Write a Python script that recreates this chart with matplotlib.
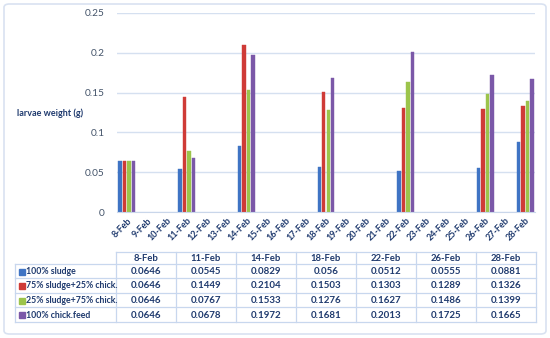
import matplotlib
matplotlib.use("Agg")
import matplotlib.pyplot as plt
from matplotlib.patches import FancyBboxPatch, Rectangle
import numpy as np

all_dates = [f"{d}-Feb" for d in range(8, 29)]
data_dates = ["8-Feb", "11-Feb", "14-Feb", "18-Feb", "22-Feb", "26-Feb", "28-Feb"]
series_names = ["100% sludge", "75% sludge+25% chick.", "25% sludge+75% chick.", "100% chick.feed"]
sludge100 = [0.0646, 0.0545, 0.0829, 0.056, 0.0512, 0.0555, 0.0881]
sludge75 = [0.0646, 0.1449, 0.2104, 0.1503, 0.1303, 0.1289, 0.1326]
sludge25 = [0.0646, 0.0767, 0.1533, 0.1276, 0.1627, 0.1486, 0.1399]
chick100 = [0.0646, 0.0678, 0.1972, 0.1681, 0.2013, 0.1725, 0.1665]
series = [sludge100, sludge75, sludge25, chick100]
colors = ["#3F74C4", "#CF3B37", "#9CC44B", "#7B58A8"]
yticks = [0, 0.05, 0.1, 0.15, 0.2, 0.25]

txt = "#1F3A6E"
grid = "#D5E0F0"
font = "Lato"

W, H = 550, 338
fig = plt.figure(figsize=(W / 100, H / 100), dpi=100)
fig.patch.set_facecolor("white")
fig.patches.append(FancyBboxPatch((4 / W, 4 / H), 542 / W, 330 / H,
                                  boxstyle="round,pad=0,rounding_size=0.01",
                                  transform=fig.transFigure, fill=False,
                                  edgecolor="#D9E2F1", linewidth=1.2))

L, R, T, B = 117, 535, 13, 212
ax = fig.add_axes([L / W, 1 - B / H, (R - L) / W, (B - T) / H])
ax.set_xlim(-0.5, len(all_dates) - 0.5)
ax.set_ylim(0, 0.25)
ax.set_yticks(yticks)
ax.set_yticklabels([f"{v:g}" for v in yticks], fontsize=7.3, color="#44546A", family=font)
ax.tick_params(axis="y", length=0, pad=9)
ax.yaxis.grid(True, color=grid, linewidth=1)
ax.set_axisbelow(True)
for s in ["top", "right", "left"]:
    ax.spines[s].set_visible(False)
ax.spines["bottom"].set_color("#C9D6EA")

pos = {d: i for i, d in enumerate(all_dates)}
xs = np.array([pos[d] for d in data_dates])
bw, pitch = 0.175, 0.226
for k, (vals, c) in enumerate(zip(series, colors)):
    off = (k - 1.5) * pitch
    ax.bar(xs + off, vals, width=bw, color=c, edgecolor=c, linewidth=0.3)

ax.set_xticks(range(len(all_dates)))
ax.set_xticklabels(all_dates, rotation=45, ha="right", rotation_mode="anchor",
                   fontsize=6.5, fontweight="bold", color=txt, family=font)
ax.tick_params(axis="x", length=0, pad=3)

fig.text(17 / W, 1 - 113 / H, "larvae weight (g)", fontsize=6.5, fontweight="bold",
         color=txt, family=font, ha="left", va="center")

# data table
tx0, tx1 = 15, 116
col_w = (536 - tx1) / len(data_dates)
rows_y = [252, 264, 278, 293, 307, 322]
tax = fig.add_axes([0, 0, 1, 1])
tax.set_xlim(0, W)
tax.set_ylim(H, 0)
tax.axis("off")
lc = "#C8D7EE"
tax.plot([tx1, 536], [rows_y[0]] * 2, color=lc, lw=0.9)
for y in rows_y[1:]:
    tax.plot([tx0, 536], [y, y], color=lc, lw=0.9)
tax.plot([tx0, tx0], [rows_y[1], rows_y[-1]], color=lc, lw=0.9)
for j in range(len(data_dates) + 1):
    x = tx1 + j * col_w
    tax.plot([x, x], [rows_y[0], rows_y[-1]], color=lc, lw=0.9)
for j, d in enumerate(data_dates):
    cx = tx1 + (j + 0.5) * col_w
    tax.text(cx, (rows_y[0] + rows_y[1]) / 2 + 0.5, d, ha="center", va="center",
             fontsize=6.8, fontweight="bold", color=txt, family=font)
for i, (name, vals, c) in enumerate(zip(series_names, series, colors)):
    cy = (rows_y[i + 1] + rows_y[i + 2]) / 2 + 0.5
    tax.add_patch(Rectangle((18.5, cy - 3), 6, 6, color=c))
    tax.text(26, cy, name, ha="left", va="center", fontsize=6.3, fontweight="bold",
             color=txt, family=font)
    for j, v in enumerate(vals):
        cx = tx1 + (j + 0.5) * col_w
        tax.text(cx, cy, f"{v:g}", ha="center", va="center", fontsize=7,
                 fontweight="bold", color=txt, family=font)

fig.savefig("out.png", dpi=100)
